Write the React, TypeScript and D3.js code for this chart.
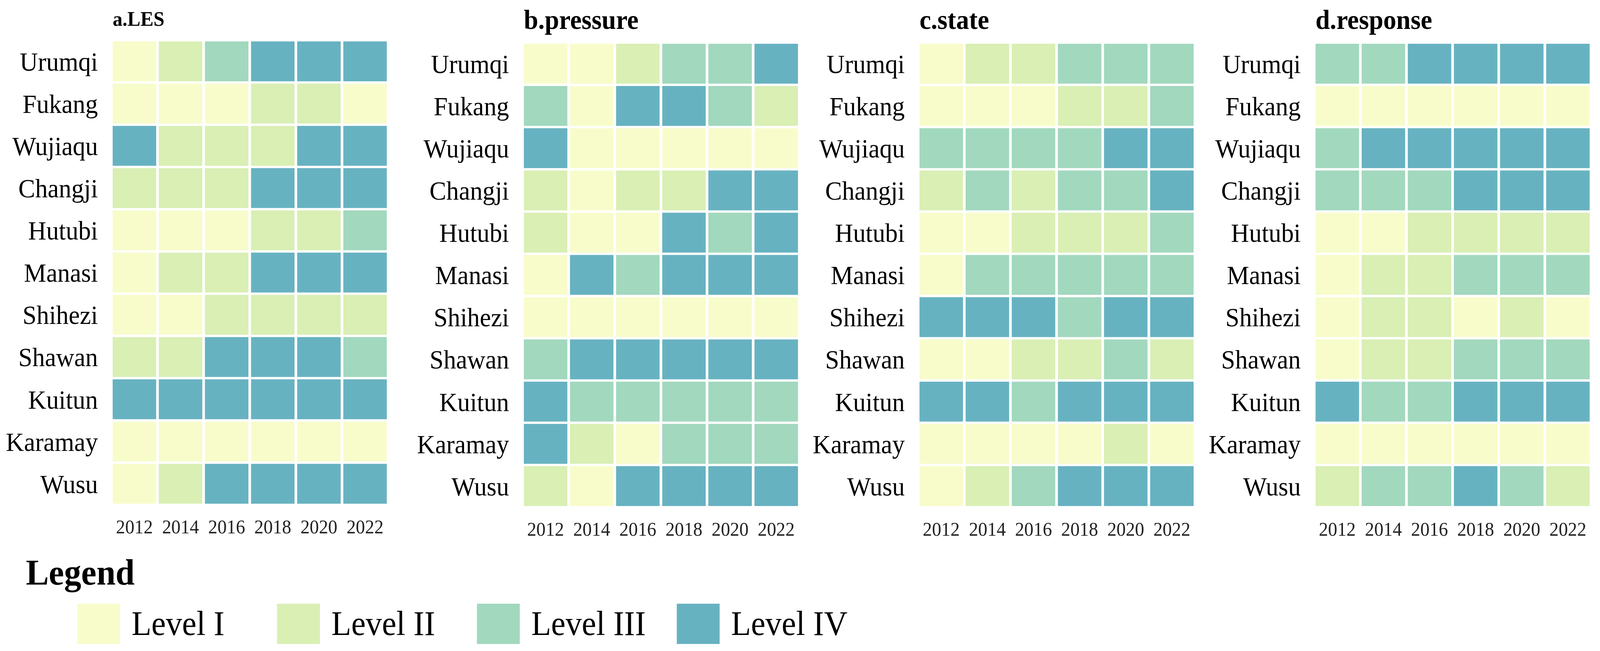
import * as d3 from 'd3';

const cities = [
  'Urumqi', 'Fukang', 'Wujiaqu', 'Changji', 'Hutubi', 'Manasi',
  'Shihezi', 'Shawan', 'Kuitun', 'Karamay', 'Wusu',
];
const years = ['2012', '2014', '2016', '2018', '2020', '2022'];
const levelNames = ['Level I', 'Level II', 'Level III', 'Level IV'];
const levelColors = ['#f8fccb', '#d9efb4', '#a1d8be', '#67b2c1'];

// level (1-4) per city, per year
const lesLevels = [
  [1, 2, 3, 4, 4, 4],
  [1, 1, 1, 2, 2, 1],
  [4, 2, 2, 2, 4, 4],
  [2, 2, 2, 4, 4, 4],
  [1, 1, 1, 2, 2, 3],
  [1, 2, 2, 4, 4, 4],
  [1, 1, 2, 2, 2, 2],
  [2, 2, 4, 4, 4, 3],
  [4, 4, 4, 4, 4, 4],
  [1, 1, 1, 1, 1, 1],
  [1, 2, 4, 4, 4, 4],
];
const pressureLevels = [
  [1, 1, 2, 3, 3, 4],
  [3, 1, 4, 4, 3, 2],
  [4, 1, 1, 1, 1, 1],
  [2, 1, 2, 2, 4, 4],
  [2, 1, 1, 4, 3, 4],
  [1, 4, 3, 4, 4, 4],
  [1, 1, 1, 1, 1, 1],
  [3, 4, 4, 4, 4, 4],
  [4, 3, 3, 3, 3, 3],
  [4, 2, 1, 3, 3, 3],
  [2, 1, 4, 4, 4, 4],
];
const stateLevels = [
  [1, 2, 2, 3, 3, 3],
  [1, 1, 1, 2, 2, 3],
  [3, 3, 3, 3, 4, 4],
  [2, 3, 2, 3, 3, 4],
  [1, 1, 2, 2, 2, 3],
  [1, 3, 3, 3, 3, 3],
  [4, 4, 4, 3, 4, 4],
  [1, 1, 2, 2, 3, 2],
  [4, 4, 3, 4, 4, 4],
  [1, 1, 1, 1, 2, 1],
  [1, 2, 3, 4, 4, 4],
];
const responseLevels = [
  [3, 3, 4, 4, 4, 4],
  [1, 1, 1, 1, 1, 1],
  [3, 4, 4, 4, 4, 4],
  [3, 3, 3, 4, 4, 4],
  [1, 1, 2, 2, 2, 2],
  [1, 2, 2, 3, 3, 3],
  [1, 2, 2, 1, 2, 1],
  [1, 2, 2, 3, 3, 3],
  [4, 3, 3, 4, 4, 4],
  [1, 1, 1, 1, 1, 1],
  [2, 3, 3, 4, 3, 2],
];

const W = 4331;
const H = 1666;
const FONT = "'Liberation Serif', 'Times New Roman', serif";

const panels = [
  { title: 'a.LES', levels: lesLevels, x0: 305, top: 106, titleSize: 53, titleY: 66 },
  { title: 'b.pressure', levels: pressureLevels, x0: 1418, top: 112, titleSize: 70, titleY: 74 },
  { title: 'c.state', levels: stateLevels, x0: 2489, top: 112, titleSize: 70, titleY: 74 },
  { title: 'd.response', levels: responseLevels, x0: 3561, top: 112, titleSize: 70, titleY: 74 },
];
const gridW = 742;
const gridH = 1183;

const color = d3.scaleOrdinal<number, string>().domain([1, 2, 3, 4]).range(levelColors);

const Panel = ({ p }: { p: (typeof panels)[number] }) => {
  const x = d3.scaleBand().domain(years).range([p.x0, p.x0 + gridW]).paddingInner(0.057);
  const y = d3.scaleBand().domain(cities).range([p.top, p.top + gridH]).paddingInner(0.056);
  return (
    <g>
      <text x={p.x0} y={p.titleY} fontSize={p.titleSize} fontWeight="bold" fontFamily={FONT}>
        {p.title}
      </text>
      {cities.map((c, i) =>
        years.map((yr, j) => (
          <rect
            key={c + yr}
            x={x(yr)}
            y={y(c)}
            width={x.bandwidth()}
            height={y.bandwidth()}
            fill={color(p.levels[i][j])}
          />
        ))
      )}
      {cities.map((c) => (
        <text
          key={c}
          x={p.x0 - 40}
          y={(y(c) ?? 0) + y.bandwidth() / 2}
          dy="0.35em"
          textAnchor="end"
          fontSize={68}
          fontFamily={FONT}
        >
          {c}
        </text>
      ))}
      {years.map((yr) => (
        <text
          key={yr}
          x={(x(yr) ?? 0) + x.bandwidth() / 2}
          y={p.top + gridH + 76}
          textAnchor="middle"
          fontSize={50}
          fontFamily={FONT}
          fill="#222"
        >
          {yr}
        </text>
      ))}
    </g>
  );
};

export default function App() {
  const legendX = d3.scaleBand().domain(levelNames).range([209, 209 + 4 * 541]);
  return (
    <svg
      viewBox={`0 0 ${W} ${H}`}
      preserveAspectRatio="none"
      style={{
        position: 'fixed',
        left: 0,
        top: 0,
        width: '100vw',
        height: '100vh',
        background: '#fff',
      }}
    >
      {panels.map((p) => (
        <Panel key={p.title} p={p} />
      ))}
      <text x={70} y={1496} fontSize={93} fontWeight="bold" fontFamily={FONT}>
        Legend
      </text>
      {levelNames.map((name, i) => (
        <g key={name}>
          <rect x={legendX(name)} y={1545} width={116} height={103} fill={levelColors[i]} />
          <text x={(legendX(name) ?? 0) + 147} y={1625} fontSize={88} fontFamily={FONT}>
            {name}
          </text>
        </g>
      ))}
    </svg>
  );
}
